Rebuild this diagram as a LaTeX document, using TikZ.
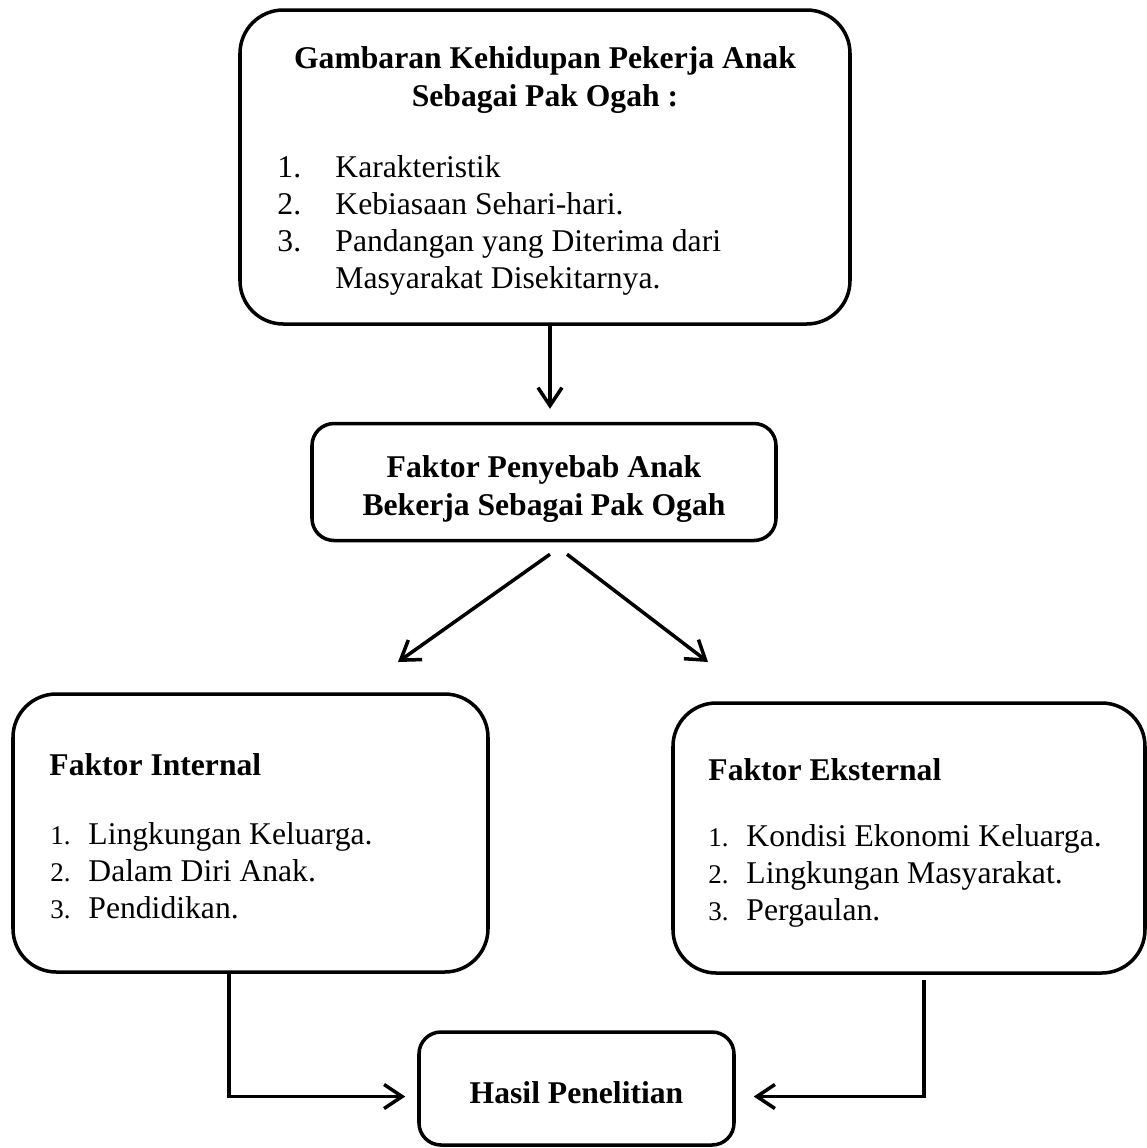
\documentclass[tikz,border=0pt]{standalone}
\usepackage{fontspec}
\setmainfont{Liberation Serif}
\usetikzlibrary{arrows.meta,positioning}
\newcommand{\px}{0.015cm}
\newcommand{\nomor}[1]{\makebox[0.87cm][l]{#1}}
\newcommand{\nomorK}[1]{\makebox[0.57cm][l]{\fontsize{11.5}{12}\selectfont #1}}
\tikzset{
  kotak/.style={rectangle,draw=black,line width=1.5pt,inner sep=0pt},
  kotakS/.style={kotak,rounded corners=0.33cm},
  kotakL/.style={kotak,rounded corners=0.65cm},
  panah/.style={-{Straight Barb[length=0.27cm,width=0.36cm]},line width=1.5pt},
  judul/.style={font=\fontsize{13.5}{16.6}\selectfont\bfseries,align=center,inner sep=0pt},
  isi/.style={font=\fontsize{13.5}{15.8}\selectfont,align=left,inner sep=0pt},
}

\begin{document}
\begin{tikzpicture}[x=\px,y=-\px]
\useasboundingbox (0,0) rectangle (1147,1148);
% gambaran kehidupan
\node[kotakL,minimum width=610*\px,minimum height=314*\px] (gambaran) at (545,167) {};
\node[judul] (gambaranT) at (545,80) {Gambaran Kehidupan Pekerja Anak\\Sebagai Pak Ogah :};
\node[isi,anchor=west] (gambaranL) at (277,225.5) {\nomor{1.}Karakteristik\\\nomor{2.}Kebiasaan Sehari-hari.\\\nomor{3.}Pandangan yang Diterima dari\\\nomor{}Masyarakat Disekitarnya.};
% faktor penyebab
\node[kotakS,minimum width=464*\px,minimum height=117*\px] (penyebab) at (544,482) {};
\node[judul] (penyebabT) at (544,489) {Faktor Penyebab Anak\\Bekerja Sebagai Pak Ogah};
% faktor internal
\node[kotakL,minimum width=475*\px,minimum height=278*\px] (internal) at (250.5,833) {};
\node[judul,anchor=west] (internalT) at (49,765) {Faktor Internal};
\node[isi,anchor=west] (internalL) at (50,870.5) {\nomorK{1.}Lingkungan Keluarga.\\\nomorK{2.}Dalam Diri Anak.\\\nomorK{3.}Pendidikan.};
% faktor eksternal
\node[kotakL,minimum width=472*\px,minimum height=270*\px] (eksternal) at (909,838) {};
\node[judul,anchor=west] (eksternalT) at (708,770) {Faktor Eksternal};
\node[isi,anchor=west] (eksternalL) at (708,876) {\nomorK{1.}Kondisi Ekonomi Keluarga.\\\nomorK{2.}Lingkungan Masyarakat.\\\nomorK{3.}Pergaulan.};
% hasil
\node[kotakS,minimum width=315*\px,minimum height=113*\px] (hasil) at (576.5,1088.5) {};
\node[judul] (hasilT) at (576.5,1093) {Hasil Penelitian};
% panah
\coordinate (ujungKiri) at (398,662);
\coordinate (ujungKanan) at (708,662);
\draw[panah,shorten >=13*\px] ([xshift=5*\px]gambaran.south) -- ([xshift=6*\px]penyebab.north);
\draw[panah] ([shift={(6,12)}]penyebab.south) -- (ujungKiri);
\draw[panah] ([shift={(23,12)}]penyebab.south) -- (ujungKanan);
\draw[panah] ([xshift=-21.5*\px]internal.south) |- ([shift={(-12,8)}]hasil.west);
\draw[panah] ([shift={(15,5)}]eksternal.south) |- ([shift={(18,8)}]hasil.east);
\end{tikzpicture}
\end{document}
